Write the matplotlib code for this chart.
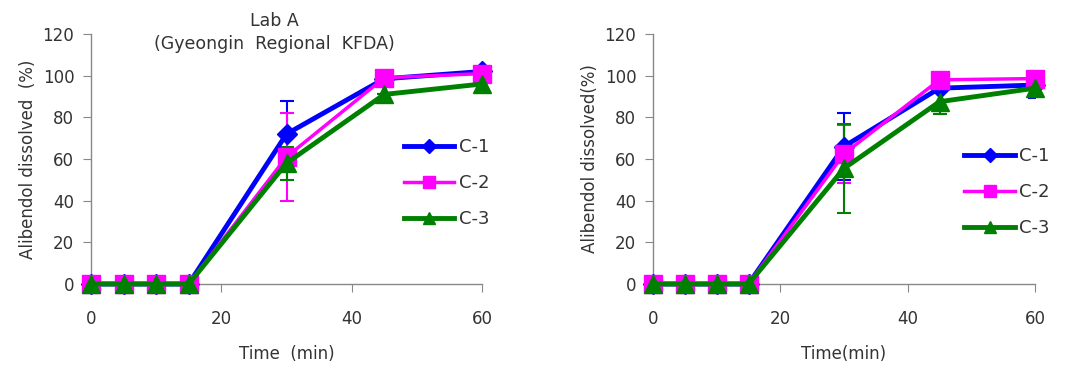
import matplotlib
matplotlib.use("Agg")
import matplotlib.pyplot as plt

time = [0, 5, 10, 15, 30, 45, 60]
series = ["C-1", "C-2", "C-3"]

# Lab A
a_c1 = [0, 0, 0, 0, 72, 98.5, 102]
a_c2 = [0, 0, 0, 0, 61, 99, 101]
a_c3 = [0, 0, 0, 0, 58, 91, 96]
a_e1 = [0, 0, 0, 0, 16, 0, 0]
a_e2 = [0, 0, 0, 0, 21, 0, 0]
a_e3 = [0, 0, 0, 0, 8, 0, 0]

# Lab B (right panel)
b_c1 = [0, 0, 0, 0, 66, 94, 95.5]
b_c2 = [0, 0, 0, 0, 62.5, 98, 98.6]
b_c3 = [0, 0, 0, 0, 55.5, 87.5, 94]
b_e1 = [0, 0, 0, 0, 16, 0, 6]
b_e2 = [0, 0, 0, 0, 14, 0, 0]
b_e3 = [0, 0, 0, 0, 21.5, 6, 0]

colors = ["#0000ff", "#ff00ff", "#008000"]
markers = ["D", "s", "^"]
msizes = [10.5, 13, 13]
lws = [3.5, 2.5, 3.5]
txt = "#333333"

plt.rcParams['font.family'] = ['DejaVu Sans']

fig = plt.figure(figsize=(10.66, 3.66), dpi=100)
ax1 = fig.add_axes([91/1066, 82/366, 391/1066, 250/366])
ax2 = fig.add_axes([653/1066, 82/366, 382/1066, 250/366])

def draw(ax, ys, es, ylabel, xlabel, legend_pos):
    handles = []
    for y, e, c, m, ms, lw, name in zip(ys, es, colors, markers, msizes, lws, series):
        ax.errorbar(time, y, yerr=e, fmt='none', ecolor=c, elinewidth=1.5,
                    capsize=5, capthick=1.5, zorder=2)
        ax.plot(time, y, color=c, marker=m, markersize=ms, linewidth=lw,
                markeredgecolor=c, zorder=3, clip_on=False)
        h, = ax.plot([], [], color=c, marker=m, markersize=ms * 0.65,
                     linewidth=lw, label=name)
        handles.append(h)
    ax.set_xlim(0, 60)
    ax.set_ylim(0, 120)
    ax.set_xticks([0, 20, 40, 60])
    ax.set_yticks(range(0, 121, 20))
    for s in ["top", "right"]:
        ax.spines[s].set_visible(False)
    for s in ["left", "bottom"]:
        ax.spines[s].set_color("#888888")
        ax.spines[s].set_linewidth(1.0)
    ax.tick_params(axis='x', direction='out', length=6, color="#888888",
                   pad=13, labelsize=12, labelcolor=txt)
    ax.tick_params(axis='y', direction='out', length=6, color="#888888",
                   pad=6, labelsize=12, labelcolor=txt)
    ax.set_xlabel(xlabel, fontsize=12, color=txt, labelpad=12)
    ax.set_ylabel(ylabel, fontsize=12, color=txt, labelpad=4)
    ax.legend(handles=handles, loc='center left', bbox_to_anchor=legend_pos,
              frameon=False, fontsize=13, handlelength=2.8, labelspacing=1.0,
              handletextpad=0.25, labelcolor=txt, borderaxespad=0,
              borderpad=0)

draw(ax1, [a_c1, a_c2, a_c3], [a_e1, a_e2, a_e3],
     "Alibendol dissolved  (%)", "Time  (min)", (0.80, 0.404))
draw(ax2, [b_c1, b_c2, b_c3], [b_e1, b_e2, b_e3],
     "Alibendol dissolved(%)", "Time(min)", (0.815, 0.368))

ax1.text(0.47, 1.09, "Lab A\n(Gyeongin  Regional  KFDA)", transform=ax1.transAxes,
         ha='center', va='top', fontsize=12.5, color=txt, linespacing=1.4)

fig.savefig("out.png", dpi=100)
